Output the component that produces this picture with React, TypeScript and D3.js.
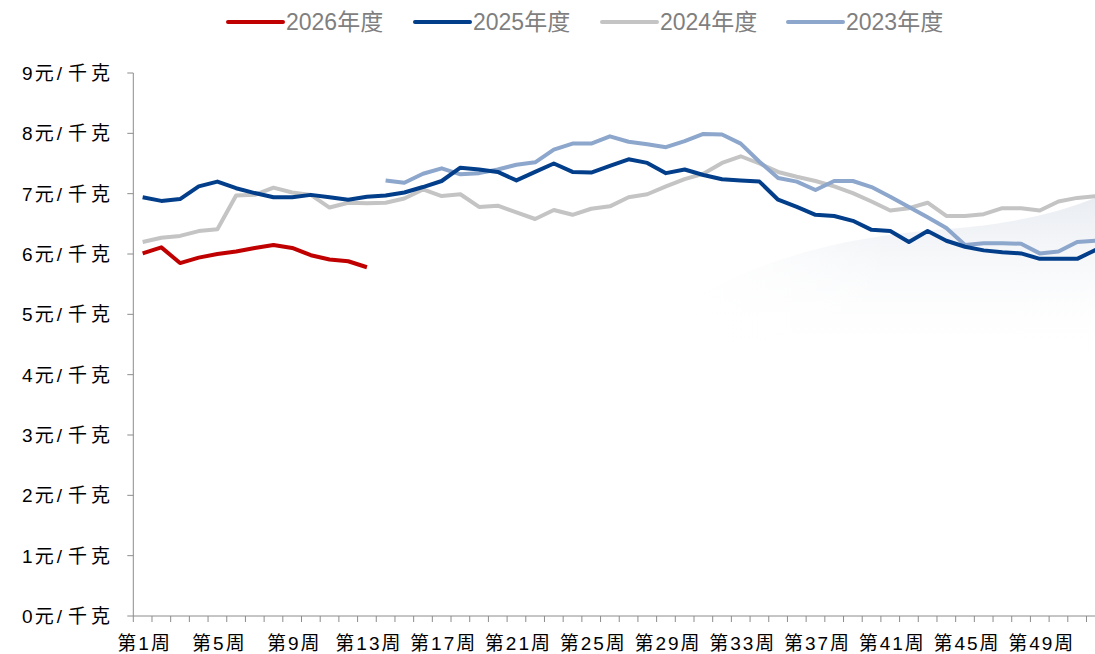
import React from "react";
import * as d3 from "d3";

const weeks: number[] = Array.from({ length: 52 }, (_, i) => i + 1);
const tickWeeks: number[] = [1, 5, 9, 13, 17, 21, 25, 29, 33, 37, 41, 45, 49];
const yTicks: number[] = [0, 1, 2, 3, 4, 5, 6, 7, 8, 9];

const s2026: (number | null)[] = [6.01, 6.11, 5.85, 5.94, 6.0, 6.04, 6.1, 6.15, 6.1, 5.98, 5.91, 5.88, 5.78];
const s2025: (number | null)[] = [
  6.94, 6.88, 6.91, 7.12, 7.2, 7.09, 7.01, 6.94, 6.94, 6.98, 6.94, 6.9, 6.95, 6.97,
  7.02, 7.11, 7.21, 7.43, 7.4, 7.36, 7.22, 7.36, 7.5, 7.36, 7.35, 7.46,
  7.57, 7.51, 7.34, 7.4, 7.31, 7.24, 7.22, 7.2, 6.9, 6.78, 6.65, 6.63, 6.55,
  6.4, 6.38, 6.2, 6.38, 6.22, 6.12, 6.06, 6.03, 6.01, 5.92, 5.92, 5.92, 6.07,
];
const s2024: (number | null)[] = [
  6.2, 6.27, 6.3, 6.38, 6.41, 6.97, 6.98, 7.1, 7.02, 6.98, 6.77, 6.85, 6.84, 6.85,
  6.92, 7.07, 6.96, 6.99, 6.78, 6.8, 6.69, 6.58, 6.73, 6.65, 6.75, 6.79,
  6.94, 6.99, 7.12, 7.24, 7.33, 7.51, 7.62, 7.5, 7.36, 7.28, 7.21, 7.12, 7.01,
  6.87, 6.72, 6.76, 6.85, 6.63, 6.63, 6.66, 6.76, 6.76, 6.72, 6.87, 6.93, 6.96,
];
const s2023: (number | null)[] = [
  null, null, null, null, null, null, null, null, null, null, null, null, null,
  7.22, 7.18, 7.33, 7.42, 7.32, 7.34, 7.4, 7.48, 7.52, 7.73, 7.83, 7.83, 7.95,
  7.86, 7.82, 7.77, 7.87, 7.99, 7.98, 7.83, 7.53, 7.26, 7.2, 7.06, 7.21, 7.21,
  7.11, 6.95, 6.78, 6.61, 6.43, 6.15, 6.18, 6.18, 6.17, 6.01, 6.04, 6.2, 6.22,
];

const seriesNames: string[] = ["2026年度", "2025年度", "2024年度", "2023年度"];
const seriesData = [s2026, s2025, s2024, s2023];
const colors: string[] = ["#C00000", "#023E8A", "#C4C4C4", "#8CA6CC"];
const drawOrder: number[] = [2, 3, 1, 0];

const W = 1095;
const H = 654;
const left = 133.3;
const step = 18.69;
const axisY = 616;
const topY = 73;

export default function App() {
  const x = d3
    .scaleBand<number>()
    .domain(weeks)
    .range([left, left + step * weeks.length])
    .padding(0);
  const y = d3.scaleLinear().domain([0, 9]).range([axisY, topY]);
  const cx = (w: number) => (x(w) as number) + x.bandwidth() / 2;

  const line = d3
    .line<number | null>()
    .defined((d) => d !== null)
    .x((_, i) => cx(weeks[i]))
    .y((d) => y(d as number));

  const font = "'Liberation Sans', Arial, 'Noto Sans CJK SC', sans-serif";
  const legendX = [228, 415, 602, 788];

  return (
    <div style={{ position: "fixed", left: 0, top: 0, width: W, height: H, background: "#fff" }}>
      <svg width={W} height={H} style={{ display: "block" }}>
        <defs>
          <linearGradient id="wm" x1="0" y1="0" x2="0" y2="1">
            <stop offset="0" stopColor="#e6eaf0" stopOpacity={0.9} />
            <stop offset="1" stopColor="#ffffff" stopOpacity={0} />
          </linearGradient>
          <linearGradient id="wm2" x1="0" y1="0" x2="1" y2="0">
            <stop offset="0" stopColor="#ffffff" stopOpacity={1} />
            <stop offset="0.5" stopColor="#ffffff" stopOpacity={0} />
          </linearGradient>
        </defs>
        <path
          d="M 690 300 C 780 250, 860 235, 960 228 C 1020 222, 1060 212, 1095 198 L 1095 360 L 690 360 Z"
          fill="url(#wm)"
        />
        <rect x={690} y={190} width={405} height={180} fill="url(#wm2)" />

        {/* y axis */}
        <line x1={left} x2={left} y1={topY} y2={axisY} stroke="#8c8c8c" strokeWidth={1} />
        {yTicks.map((t) => (
          <g key={t}>
            <line x1={left - 6} x2={left} y1={y(t)} y2={y(t)} stroke="#8c8c8c" />
            <text
              x={110}
              y={y(t)}
              textAnchor="end"
              dominantBaseline="central"
              fontSize={19}
              fontFamily={font}
              fill="#000"
            >
              <tspan>{t}</tspan>
              <tspan dx={2}>元</tspan>
              <tspan dx={3}>/</tspan>
              <tspan dx={6}>千</tspan>
              <tspan dx={4}>克</tspan>
            </text>
          </g>
        ))}

        {/* x axis */}
        <line x1={left} x2={W} y1={axisY} y2={axisY} stroke="#8c8c8c" />
        {weeks.map((w) => (
          <line
            key={w}
            x1={x(w) as number}
            x2={x(w) as number}
            y1={axisY}
            y2={axisY + 6}
            stroke="#8c8c8c"
          />
        ))}
        {tickWeeks.map((w) => (
          <text
            key={w}
            x={cx(w) + 2}
            y={643}
            textAnchor="middle"
            dominantBaseline="central"
            fontSize={19}
            fontFamily={font}
            fill="#000"
            letterSpacing={2}
          >
            {`第${w}周`}
          </text>
        ))}

        {/* lines */}
        {drawOrder.map((k) => (
          <path
            key={k}
            d={line(seriesData[k]) || ""}
            fill="none"
            stroke={colors[k]}
            strokeWidth={4}
            strokeLinejoin="round"
          />
        ))}

        {/* legend */}
        {seriesNames.map((n, i) => (
          <g key={n}>
            <line
              x1={legendX[i]}
              x2={legendX[i] + 55}
              y1={22}
              y2={22}
              stroke={colors[i]}
              strokeWidth={4}
              strokeLinecap="round"
            />
            <text
              x={legendX[i] + 58}
              y={22}
              dominantBaseline="central"
              fontSize={23}
              fontFamily={font}
              fill="#7f7f7f"
            >
              {n}
            </text>
          </g>
        ))}
      </svg>
    </div>
  );
}
